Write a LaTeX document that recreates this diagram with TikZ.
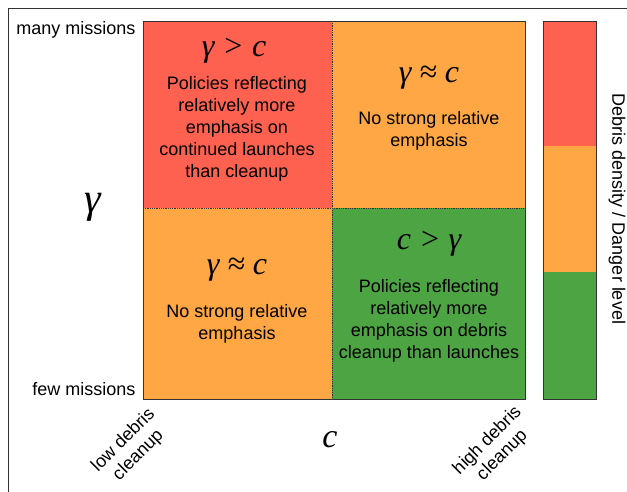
\documentclass[tikz,border=0pt]{standalone}
\usepackage{fontspec}
\setmainfont{Liberation Sans}
\newfontfamily\mathserif{Liberation Serif}
\definecolor{cred}{HTML}{FF6150}
\definecolor{corange}{HTML}{FFA645}
\definecolor{cgreen}{HTML}{4CA443}
\definecolor{edge}{HTML}{333333}
\newcommand{\relsp}{\hspace{0.25em}}
\tikzset{
  body/.style={font=\fontsize{18}{22}\selectfont, align=center, text=black},
  mth/.style={font=\fontsize{32}{32}\selectfont\mathserif\itshape, text=black},
  axl/.style={font=\fontsize{18}{21}\selectfont, text=black},
  divider/.style={draw=edge, densely dotted, line width=0.8pt},
}
\begin{document}
\begin{tikzpicture}[x=1pt,y=-1pt]
\useasboundingbox (0,0) rectangle (627,491);
\fill[white] (0,0) rectangle (627,491);
% outer frame
\draw[edge, line width=0.8pt] (8,495) -- (8,8) -- (630,8);
% quadrants
\fill[cred] (143,21) rectangle (332,208);
\fill[corange] (332,21) rectangle (525,208);
\fill[corange] (143,208) rectangle (332,399);
\fill[cgreen] (332,208) rectangle (525,399);
\coordinate (vt) at (332,21);
\coordinate (vb) at (332,399);
\coordinate (hl) at (143,208);
\coordinate (hr) at (525,208);
\draw[divider] (vt) -- (vb);
\draw[divider] (hl) -- (hr);
\draw[edge, line width=0.9pt] (143,21) rectangle (525,399);
% colour bar
\fill[cred] (543,21) rectangle (596,146);
\fill[corange] (543,146) rectangle (596,272);
\fill[cgreen] (543,272) rectangle (596,399);
\draw[edge, line width=0.9pt] (543,21) rectangle (596,399);
\node[axl, rotate=-90] (bar) at (617,209) {Debris density / Danger level};
% quadrant texts
\node[mth] (tlm) at (234,51) {γ\relsp>\relsp c};
\node[body] (tlt) at (237,129) {Policies reflecting\\relatively more\\emphasis on\\continued launches\\than cleanup};
\node[mth] (trm) at (429,78) {γ\relsp≈\relsp c};
\node[body] (trt) at (429,131) {No strong relative\\emphasis};
\node[mth] (blm) at (237,270) {γ\relsp≈\relsp c};
\node[body] (blt) at (237,324) {No strong relative\\emphasis};
\node[mth] (brm) at (429,244) {c\relsp>\relsp γ};
\node[body] (brt) at (429,321) {Policies reflecting\\relatively more\\emphasis on debris\\cleanup than launches};
% axis labels
\node[axl, anchor=east] (many) at (139,30) {many missions};
\node[axl, anchor=east] (few) at (139,389) {few missions};
\node[mth, font=\fontsize{42}{42}\selectfont\mathserif\itshape] (gam) at (93,207) {γ};
\node[mth, font=\fontsize{34}{34}\selectfont\mathserif\itshape] (cc) at (330,440) {c};
\node[axl, align=center, rotate=45] (low) at (131,448) {low debris\\cleanup};
\node[axl, align=center, rotate=45] (high) at (495,448) {high debris\\cleanup};
\end{tikzpicture}
\end{document}
